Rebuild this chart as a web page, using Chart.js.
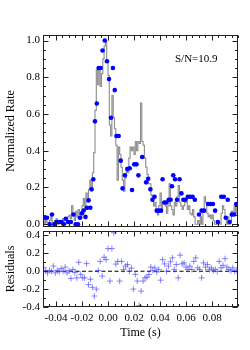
<!DOCTYPE html>
<html>
<head>
<meta charset="utf-8">
<script src="https://cdn.jsdelivr.net/npm/chart.js@4.4.1/dist/chart.umd.min.js"></script>
<style>
  body { margin: 0; background: #fff; }
  #wrap { position: relative; width: 250px; height: 350px; }
  canvas { position: absolute; left: 0; }
  #topChart { top: 0; }
  #botChart { top: 226px; }
</style>
</head>
<body>
<div id="wrap">
  <canvas id="topChart" width="250" height="231"></canvas>
  <canvas id="botChart" width="250" height="124"></canvas>
</div>
<script>
// light curve, blue points (time in s, normalized rate)
const BLUE_T = [-0.0490,-0.0469,-0.0449,-0.0431,-0.0413,-0.0396,-0.0377,-0.0358,-0.0341,-0.0325,
  -0.0306,-0.0286,-0.0266,-0.0249,-0.0231,-0.0216,-0.0200,-0.0187,-0.0173,-0.0161,
  -0.0149,-0.0136,-0.0126,-0.0113,-0.0100,-0.0086,-0.0072,-0.0057,-0.0042,-0.0025,
  -0.0008,0.0008,0.0023,0.0038,0.0052,0.0065,0.0082,0.0098,0.0112,0.0130,
  0.0149,0.0167,0.0185,0.0202,0.0219,0.0234,0.0263,0.0293,0.0309,0.0326,
  0.0342,0.0358,0.0375,0.0392,0.0408,0.0420,0.0433,0.0449,0.0467,0.0482,
  0.0492,0.0502,0.0516,0.0531,0.0551,0.0565,0.0580,0.0597,0.0614,0.0632,
  0.0651,0.0668,0.0700,0.0720,0.0739,0.0770,0.0789,0.0807,0.0824,0.0845,
  0.0871,0.0891,0.0906,0.0921,0.0936,0.0952,0.0969,0.0986];
const BLUE_RATE = [0.035,0.035,0.0,0.053,0.0,0.012,0.012,0.012,0.0,0.03,
  0.012,0.012,0.053,0.0,0.0,0.035,0.06,0.075,0.04,0.09,
  0.13,0.09,0.19,0.245,0.56,0.657,0.85,0.85,0.946,1.0,
  0.887,0.79,0.58,0.85,0.73,0.48,0.48,0.346,0.195,0.266,
  0.30,0.305,0.186,0.326,0.326,0.266,0.366,0.228,0.248,0.19,
  0.133,0.15,0.074,0.074,0.074,0.245,0.118,0.118,0.133,0.133,
  0.207,0.266,0.245,0.133,0.245,0.168,0.133,0.133,0.15,0.15,
  0.15,0.133,0.053,0.074,0.074,0.11,0.11,0.11,0.074,0.012,
  0.15,0.15,0.035,0.133,0.012,0.053,0.053,0.11];

// fine binned histogram (gray steps), bin centres
const GRAY_T = [-0.0495,-0.0485,-0.0475,-0.0465,-0.0455,-0.0445,-0.0435,-0.0425,-0.0415,-0.0405,
  -0.0395,-0.0385,-0.0375,-0.0365,-0.0355,-0.0345,-0.0335,-0.0325,-0.0315,-0.0305,
  -0.0295,-0.0285,-0.0275,-0.0265,-0.0255,-0.0245,-0.0235,-0.0225,-0.0215,-0.0205,
  -0.0195,-0.0185,-0.0175,-0.0165,-0.0155,-0.0145,-0.0135,-0.0125,-0.0115,-0.0105,
  -0.0095,-0.0085,-0.0075,-0.0065,-0.0055,-0.0045,-0.0035,-0.0025,-0.0015,-0.0005,
  0.0005,0.0015,0.0025,0.0035,0.0045,0.0055,0.0065,0.0075,0.0085,0.0095,
  0.0105,0.0115,0.0125,0.0135,0.0145,0.0155,0.0165,0.0175,0.0185,0.0195,
  0.0205,0.0215,0.0225,0.0235,0.0245,0.0255,0.0265,0.0275,0.0285,0.0295,
  0.0305,0.0315,0.0325,0.0335,0.0345,0.0355,0.0365,0.0375,0.0385,0.0395,
  0.0405,0.0415,0.0425,0.0435,0.0445,0.0455,0.0465,0.0475,0.0485,0.0495,
  0.0505,0.0515,0.0525,0.0535,0.0545,0.0555,0.0565,0.0575,0.0585,0.0595,
  0.0605,0.0615,0.0625,0.0635,0.0645,0.0655,0.0665,0.0675,0.0685,0.0695,
  0.0705,0.0715,0.0725,0.0735,0.0745,0.0755,0.0765,0.0775,0.0785,0.0795,
  0.0805,0.0815,0.0825,0.0835,0.0845,0.0855,0.0865,0.0875,0.0885,0.0895,
  0.0905,0.0915,0.0925,0.0935,0.0945,0.0955,0.0965,0.0975,0.0985,0.0995];
const GRAY_RATE = [0.02,0.0,0.03,0.01,0.0,0.02,0.04,0.01,0.0,0.02,
  0.03,0.0,0.01,0.02,0.0,0.03,0.01,0.0,0.02,0.04,
  0.05,0.03,0.10,0.06,0.02,0.07,0.04,0.08,0.05,0.03,
  0.10,0.14,0.08,0.17,0.12,0.19,0.24,0.20,0.28,0.39,
  0.62,0.84,0.76,0.85,0.75,0.82,0.90,0.97,1.0,0.88,
  0.81,0.54,0.48,0.70,0.58,0.52,0.43,0.24,0.42,0.38,
  0.31,0.24,0.18,0.25,0.31,0.28,0.36,0.42,0.40,0.42,
  0.38,0.45,0.40,0.45,0.44,0.66,0.45,0.43,0.36,0.31,
  0.27,0.22,0.22,0.16,0.14,0.10,0.12,0.07,0.05,0.10,
  0.17,0.08,0.12,0.115,0.10,0.06,0.10,0.22,0.10,0.08,
  0.05,0.12,0.10,0.15,0.21,0.12,0.10,0.08,0.10,0.12,
  0.12,0.08,0.10,0.06,0.05,0.08,0.04,0.0,0.0,0.02,
  0.0,0.04,0.0,0.08,0.15,0.12,0.06,0.04,0.05,0.03,
  0.05,0.02,0.0,0.0,0.0,0.01,0.0,0.06,0.10,0.08,
  0.03,0.0,0.04,0.0,0.02,0.07,0.05,0.10,0.06,0.11];

// residuals
const RES_T = [-0.0495,-0.048,-0.0465,-0.045,-0.0435,-0.042,-0.0405,-0.039,-0.0375,-0.036,
  -0.0345,-0.033,-0.0315,-0.03,-0.0285,-0.027,-0.0255,-0.024,-0.0225,-0.021,
  -0.0195,-0.018,-0.0165,-0.015,-0.0135,-0.012,-0.0105,-0.009,-0.0075,-0.006,
  -0.0045,-0.003,-0.0015,0.0,0.0015,0.003,0.0045,0.006,0.0075,0.009,
  0.0105,0.012,0.0135,0.015,0.0165,0.018,0.0195,0.021,0.0225,0.024,
  0.0255,0.027,0.0285,0.03,0.0315,0.033,0.0345,0.036,0.0375,0.039,
  0.0405,0.042,0.0435,0.045,0.0465,0.048,0.0495,0.051,0.0525,0.054,
  0.0555,0.057,0.0585,0.06,0.0615,0.063,0.0645,0.066,0.0675,0.069,
  0.0705,0.072,0.0735,0.075,0.0765,0.078,0.0795,0.081,0.0825,0.084,
  0.0855,0.087,0.0885,0.09,0.0915,0.093,0.0945,0.096,0.0975,0.099];
const RES_V = [0.04,0.008,-0.018,0.01,0.0,0.057,-0.018,0.01,-0.005,0.03,
  0.0,0.046,-0.018,0.005,-0.081,0.02,-0.015,-0.074,0.10,-0.035,
  -0.074,-0.074,0.085,-0.15,-0.09,-0.18,-0.277,-0.2,0.008,0.11,
  -0.055,0.157,0.13,0.253,-0.11,0.253,0.43,0.08,0.11,-0.11,
  0.11,0.02,0.057,0.075,0.0,0.035,-0.2,-0.035,-0.11,-0.385,
  -0.222,-0.11,-0.074,-0.066,-0.037,0.046,0.008,0.038,-0.007,0.02,
  -0.10,0.13,0.082,0.0,0.057,0.105,0.15,0.02,0.075,-0.074,
  0.18,0.082,0.093,0.046,0.02,0.057,0.02,0.11,0.15,0.038,
  0.02,-0.074,0.093,0.046,0.075,0.02,0.038,0.005,0.02,-0.003,
  0.11,0.038,0.066,0.14,0.046,0.02,0.005,0.038,-0.003,0.012];

const X_RANGE = [-0.05, 0.1];
const X_TICKS = [-0.04, -0.02, 0.0, 0.02, 0.04, 0.06, 0.08];
const TOP_Y_TICKS = [0.0, 0.2, 0.4, 0.6, 0.8, 1.0];
const RES_Y_TICKS = [-0.4, -0.2, 0.0, 0.2, 0.4];
const SN_LABEL = 'S/N=10.9';

const FONT = 'Liberation Serif';
const zip = (xs, ys) => xs.map((x, i) => ({x, y: ys[i]}));

// no extra room for end labels, the box is placed by layout padding
const noPad = s => { s.paddingTop = 0; s.paddingBottom = 0; s.paddingLeft = 0; s.paddingRight = 0; };

// IDL style box with inward ticks on all four sides
const boxTicks = {
  id: 'boxTicks',
  afterDatasetsDraw(chart, args, o){
    const {ctx, chartArea: a} = chart;
    const xs = chart.scales.x, ys = chart.scales.y;
    const L = Math.round(a.left)+0.5, R = Math.round(a.right)-0.5;
    const T = Math.round(a.top)+0.5, B = Math.round(a.bottom)-0.5;
    ctx.save();
    ctx.strokeStyle = '#222';
    ctx.lineWidth = 1;
    ctx.strokeRect(L, T, R-L, B-T);
    ctx.beginPath();
    const xt = (v, len)=>{
      const p = Math.round(xs.getPixelForValue(v))+0.5;
      ctx.moveTo(p, B); ctx.lineTo(p, B-len);
      ctx.moveTo(p, T); ctx.lineTo(p, T+len);
    };
    const yt = (v, len)=>{
      const p = Math.round(ys.getPixelForValue(v))+0.5;
      ctx.moveTo(L, p); ctx.lineTo(L+len, p);
      ctx.moveTo(R, p); ctx.lineTo(R-len, p);
    };
    for(let v = xs.min; v <= xs.max+1e-9; v += o.xMinor) xt(v, 2.5);
    X_TICKS.forEach(v=>xt(v, 5));
    for(let v = o.yMinorStart; v <= ys.max+1e-9; v += o.yMinor) yt(v, 2.5);
    o.yMajor.forEach(v=>yt(v, 5));
    ctx.stroke();
    if(o.label){
      ctx.fillStyle = '#000';
      ctx.font = `11px "${FONT}"`;
      ctx.textBaseline = 'middle';
      ctx.fillText(o.label, 175, 59);
    }
    ctx.restore();
  }
};

function yAxis(min, max, ticks, title){
  return {
    min, max,
    afterBuildTicks: s=>{ s.ticks = ticks.map(v=>({value:v})); },
    afterFit: s=>{ s.width = 43; noPad(s); },
    grid: {display:false, drawTicks:false},
    border: {display:false},
    ticks: {padding:3, color:'#000', font:{family:FONT, size:11}, callback: v=>v.toFixed(1)},
    title: {display:true, text:title, color:'#000', font:{family:FONT, size:12}, padding:{top:4, bottom:0}}
  };
}

const common = {
  responsive:false,
  animation:false,
  plugins:{legend:{display:false}, tooltip:{enabled:false}}
};

new Chart(document.getElementById('topChart'), {
  type:'line',
  data:{
    datasets:[
      { data: zip(BLUE_T, BLUE_RATE), showLine:false, pointRadius:2.3, pointBorderWidth:0,
        pointBackgroundColor:'#0000ff' },
      { data: zip(GRAY_T, GRAY_RATE), stepped:'middle', borderColor:'#8c8c8c', borderWidth:1.1,
        pointRadius:0, fill:false }
    ]
  },
  options:{
    ...common,
    layout:{padding:{left:0, right:12, top:35, bottom:0}},
    scales:{
      x:{type:'linear', min:X_RANGE[0], max:X_RANGE[1], display:false},
      y:yAxis(-0.015, 1.03, TOP_Y_TICKS, 'Normalized Rate')
    },
    plugins:{...common.plugins,
      boxTicks:{xMinor:0.005, yMinor:0.05, yMinorStart:0, yMajor:TOP_Y_TICKS, label:SN_LABEL}}
  },
  plugins:[boxTicks]
});

new Chart(document.getElementById('botChart'), {
  type:'line',
  data:{
    datasets:[
      { data: zip(RES_T, RES_V), showLine:false, pointStyle:'cross', pointRadius:3,
        pointBorderWidth:1, pointBorderColor:'rgba(70,70,255,0.65)' },
      { data: [{x:X_RANGE[0], y:0}, {x:X_RANGE[1], y:0}], borderColor:'#000', borderWidth:1.2,
        borderDash:[4,2.5], pointRadius:0, fill:false }
    ]
  },
  options:{
    ...common,
    layout:{padding:{left:0, right:12, top:4, bottom:0}},
    scales:{
      x:{
        type:'linear', min:X_RANGE[0], max:X_RANGE[1],
        afterBuildTicks: s=>{ s.ticks = X_TICKS.map(v=>({value:v})); },
        afterFit: s=>{ s.height = 43; noPad(s); },
        grid:{display:false, drawTicks:false},
        border:{display:false},
        ticks:{padding:5, maxRotation:0, autoSkip:false, color:'#000',
          font:{family:FONT, size:11}, callback: v=>v.toFixed(2)},
        title:{display:true, text:'Time (s)', color:'#000', font:{family:FONT, size:12},
          padding:{top:0, bottom:10}}
      },
      y:yAxis(-0.4, 0.45, RES_Y_TICKS, 'Residuals')
    },
    plugins:{...common.plugins,
      boxTicks:{xMinor:0.005, yMinor:0.1, yMinorStart:-0.4, yMajor:RES_Y_TICKS}}
  },
  plugins:[boxTicks]
});
</script>
</body>
</html>
